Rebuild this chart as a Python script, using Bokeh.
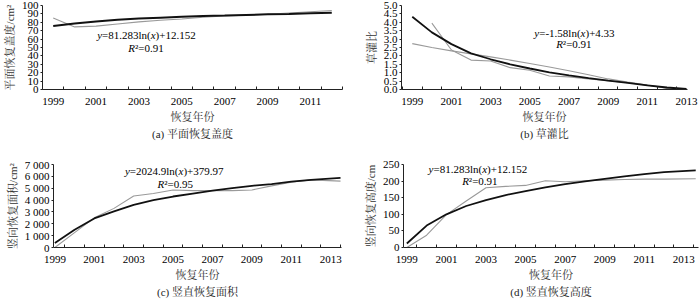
from bokeh.plotting import figure
from bokeh.models import Range1d, FixedTicker, Label
from bokeh.layouts import column, row
from bokeh.embed import file_html
from bokeh.resources import INLINE

# ---------------- data ----------------
years_a = [1999, 2000, 2001, 2002, 2003, 2004, 2005, 2006, 2007, 2008, 2009, 2010, 2011, 2012]
cover_obs = [85, 74.5, 75.5, 78, 80.5, 82.5, 84, 86, 87.5, 88.5, 89.5, 91, 92.5, 94]
cover_fit = [75.5, 78.5, 81, 83, 84.5, 85.5, 86.5, 87.5, 88, 88.8, 89.5, 90, 90.7, 91.3]

years_b = [1999, 2000, 2001, 2002, 2003, 2004, 2005, 2006, 2007, 2008, 2009, 2010, 2011, 2012, 2013]
ratio_obs_years = [2000, 2001, 2002, 2003, 2004, 2005, 2006, 2007, 2008, 2009, 2010, 2011, 2012, 2013]
ratio_obs = [3.95, 2.35, 1.75, 1.7, 1.3, 1.15, 0.8, 0.75, 0.63, 0.53, 0.4, 0.25, 0.1, 0.0]
ratio_fit = [4.33, 3.4, 2.7, 2.15, 1.8, 1.5, 1.25, 1.02, 0.84, 0.68, 0.53, 0.4, 0.25, 0.12, 0.03]
ratio_trend = [2.73, 2.5, 2.3, 2.12, 1.94, 1.75, 1.55, 1.34, 1.12, 0.88, 0.63, 0.44, 0.27, 0.06, -0.15]

years_c = [1999, 2000, 2001, 2002, 2003, 2004, 2005, 2006, 2007, 2008, 2009, 2010, 2011, 2012, 2013.5]
area_obs = [0, 1250, 2500, 3300, 4350, 4550, 4850, 4800, 4800, 4800, 4850, 5200, 5500, 5700, 5600]
area_fit = [370, 1500, 2450, 3050, 3600, 4000, 4300, 4550, 4800, 5000, 5200, 5350, 5550, 5700, 5870]

years_d = [1999, 2000, 2001, 2002, 2003, 2004, 2005, 2006, 2007, 2008, 2009, 2010, 2011, 2012, 2013.6]
height_obs = [0, 37, 99, 140, 180, 184, 187, 201, 198, 201, 203, 205, 206, 206, 207]
height_fit = [12, 66, 100, 125, 143, 158, 170, 181, 191, 199, 207, 214, 221, 227, 232]

odd_years = [1999, 2001, 2003, 2005, 2007, 2009, 2011, 2013]
ticks_a = [0, 10, 20, 30, 40, 50, 60, 70, 80, 90, 100]
ticks_b = [0, 0.5, 1.0, 1.5, 2.0, 2.5, 3.0, 3.5, 4.0, 4.5, 5.0]
ticks_c = [0, 1000, 2000, 3000, 4000, 5000, 6000, 7000]
labels_c = ["0", "1 000", "2 000", "3 000", "4 000", "5 000", "6 000", "7 000"]
ticks_d = [0, 50, 100, 150, 200, 250]

SERIF = "'Liberation Serif', 'Times New Roman', serif"
MIXED = "'Liberation Serif', 'Noto Serif CJK SC', 'Noto Sans CJK SC', serif"
GRAY = "#9a9a9a"
BLACK = "#111111"

# Times-like advance widths (per 1000 em)
WIDTHS = {"y": 444, "x": 444, "R": 611, "=": 564, "+": 564, "-": 333, ".": 250,
          "(": 333, ")": 333, "l": 278, "n": 500, "\u00b2": 300}


def text_w(s, size):
    return sum(WIDTHS.get(c, 500) for c in s) * size / 1000.0


def add_eq(p, x, y, pieces, size=11):
    total = sum(text_w(t, size) for t, _ in pieces)
    off = -total / 2.0
    for t, it in pieces:
        p.add_layout(Label(x=x, y=y, x_offset=off, text=t, text_font=SERIF,
                           text_font_size=f"{size}px",
                           text_font_style="italic" if it else "normal",
                           text_baseline="middle", text_align="left",
                           text_color="#000000"))
        off += text_w(t, size)


def make_panel(xr, yr, yticks, ylabel, caption, borders, ylabels=None, yfmt=None):
    l, r, t, b = borders
    p = figure(width=350, height=150, x_range=Range1d(*xr), y_range=Range1d(*yr),
               output_backend="svg", toolbar_location=None,
               min_border_left=l, min_border_right=r, min_border_top=t, min_border_bottom=b,
               title=caption, title_location="below")
    p.grid.visible = False
    p.outline_line_color = None
    p.background_fill_color = "white"
    p.border_fill_color = "white"

    minors = [v + 0.5 for v in range(1998, 2014)]
    p.xaxis.ticker = FixedTicker(ticks=odd_years, minor_ticks=minors)
    p.xaxis.minor_tick_in = 3
    p.xaxis.minor_tick_out = 0
    p.xaxis.minor_tick_line_color = "#222222"
    p.xaxis.major_label_standoff = 2
    p.xaxis.axis_label = "恢复年份"
    p.xaxis.axis_label_standoff = 3

    p.yaxis.ticker = FixedTicker(ticks=yticks)
    p.yaxis.minor_tick_line_color = None
    p.yaxis.major_tick_in = 0
    p.yaxis.major_tick_out = 2
    p.yaxis.major_label_standoff = 2
    p.yaxis.axis_label = ylabel
    p.yaxis.axis_label_standoff = 3
    if ylabels is not None:
        p.yaxis.major_label_overrides = {v: s for v, s in zip(yticks, ylabels)}
    if yfmt is not None:
        p.yaxis.major_label_overrides = {v: yfmt.format(v) for v in yticks}

    for ax in (p.xaxis, p.yaxis):
        ax.axis_line_color = "#222222"
        ax.axis_line_width = 1
        ax.major_label_text_font = SERIF
        ax.major_label_text_font_size = "11px"
        ax.major_label_text_color = "#000000"
        ax.axis_label_text_font = MIXED
        ax.axis_label_text_font_size = "11px"
        ax.axis_label_text_font_style = "normal"
        ax.axis_label_text_color = "#333333"
    p.xaxis.major_tick_line_color = None
    p.yaxis.major_tick_line_color = "#222222"

    p.title.align = "center"
    p.title.text_font = MIXED
    p.title.text_font_size = "11px"
    p.title.text_font_style = "normal"
    p.title.text_color = "#222222"
    p.title.standoff = 0
    return p


# (a)
pa = make_panel((1998.5, 2012.5), (0, 100), ticks_a, "平面恢复盖度/cm\u00b2",
                "(a) 平面恢复盖度", (42, 8, 5, 61))
pa.line(years_a, cover_obs, line_color=GRAY, line_width=1.1)
pa.line(years_a, cover_fit, line_color=BLACK, line_width=2)
add_eq(pa, 2003.35, 64.3, [("y", True), ("=81.283ln(", False), ("x", True), (")+12.152", False)])
add_eq(pa, 2003.33, 49.2, [("R", True), ("\u00b2=0.91", False)])

# (b)
pb = make_panel((1998.45, 2013.05), (0, 5), ticks_b, "草灌比",
                "(b) 草灌比", (51, 13, 4, 61), yfmt="{:.1f}")
pb.line(years_b, ratio_trend, line_color=GRAY, line_width=1.1)
pb.line(ratio_obs_years, ratio_obs, line_color=GRAY, line_width=1.1)
pb.line(years_b, ratio_fit, line_color=BLACK, line_width=1.8)
add_eq(pb, 2007.28, 3.37, [("y", True), ("=-1.58ln(", False), ("x", True), (")+4.33", False)])
add_eq(pb, 2007.25, 2.69, [("R", True), ("\u00b2=0.91", False)])

# (c)
pc = make_panel((1998.93, 2013.55), (0, 7000), ticks_c, "竖向恢复面积/cm\u00b2",
                "(c) 竖直恢复面积", (53, 9, 14, 52), ylabels=labels_c)
pc.line(years_c, area_obs, line_color=GRAY, line_width=1.1)
pc.line(years_c, area_fit, line_color=BLACK, line_width=1.8)
add_eq(pc, 2005.06, 6419, [("y", True), ("=2024.9ln(", False), ("x", True), (")+379.97", False)])
add_eq(pc, 2005.11, 5397, [("R", True), ("\u00b2=0.95", False)])

# (d)
pd_ = make_panel((1998.83, 2013.74), (0, 250), ticks_d, "竖向恢复高度/cm",
                 "(d) 竖直恢复高度", (53, 2, 12, 53))
pd_.line(years_d, height_obs, line_color=GRAY, line_width=1.1)
pd_.line(years_d, height_fit, line_color=BLACK, line_width=1.8)
add_eq(pd_, 2002.59, 237.4, [("y", True), ("=81.283ln(", False), ("x", True), (")+12.152", False)])
add_eq(pd_, 2002.69, 201.5, [("R", True), ("\u00b2=0.91", False)])

layout = column(row(pa, pb), row(pc, pd_))
open("out.html", "w").write(file_html(layout, INLINE))
